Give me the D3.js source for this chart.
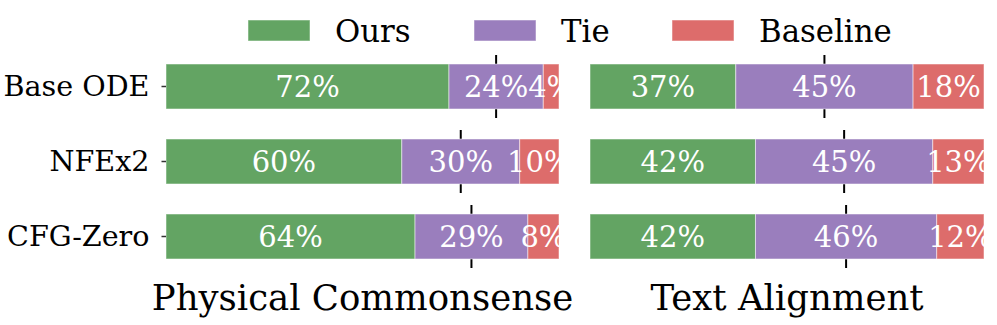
<!DOCTYPE html>
<html>
<head>
<meta charset="utf-8">
<script src="https://cdn.jsdelivr.net/npm/d3@7"></script>
<style>
  body { margin: 0; background: #fff; }
  svg text { font-family: "DejaVu Serif", serif; }
</style>
</head>
<body>
<div id="js-canvas"></div>
<script>
"use strict";

// Methods compared, top to bottom.
const methods = ["Base ODE", "NFEx2", "CFG-Zero"];

// Legend / stack order.
const series = ["Ours", "Tie", "Baseline"];
const colors = ["#63a463", "#9a7ebd", "#dd6c6b"];

// Percentages per method, in series order.
const physicalValues = [[72, 24, 4], [60, 30, 10], [64, 29, 8]];
const alignmentValues = [[37, 45, 18], [42, 45, 13], [42, 46, 12]];

const panelTitles = ["Physical Commonsense", "Text Alignment"];

const width = 997;
const height = 325;

function createCanvas(w, h) {
  return d3.select("#js-canvas")
    .append("svg")
      .attr("width", w)
      .attr("height", h);
}

const y = d3.scaleBand()
  .domain(methods)
  .range([49, 274])
  .paddingInner(0.4)
  .paddingOuter(0.2);

function stackRows(values) {
  return values.map(function (row, i) {
    const total = d3.sum(row);
    let acc = 0;
    return row.map(function (v, j) {
      const seg = { method: methods[i], series: j, value: v,
                    x0: acc / total, x1: (acc + v) / total };
      acc += v;
      return seg;
    });
  });
}

function drawPanel(svg, values, title, x0, x1, showAxis) {
  const x = d3.scaleLinear().domain([0, 1]).range([x0, x1]);
  const rows = stackRows(values);
  const g = svg.append("g");

  // black marks through the middle of the tie segment
  g.append("g")
    .selectAll("line")
    .data(rows.map(function (r) { return r[1]; }))
    .enter()
    .append("line")
      .attr("x1", function (d) { return x((d.x0 + d.x1) / 2); })
      .attr("x2", function (d) { return x((d.x0 + d.x1) / 2); })
      .attr("y1", function (d) { return y(d.method) - 9; })
      .attr("y2", function (d) { return y(d.method) + y.bandwidth() + 9; })
      .attr("stroke", "#000")
      .attr("stroke-width", 2);

  const segs = rows.flat();
  g.append("g")
    .selectAll("rect")
    .data(segs)
    .enter()
    .append("rect")
      .attr("x", function (d) { return x(d.x0); })
      .attr("y", function (d) { return y(d.method); })
      .attr("width", function (d) { return x(d.x1) - x(d.x0); })
      .attr("height", y.bandwidth())
      .attr("fill", function (d) { return colors[d.series]; })
      .attr("stroke", "rgba(255,255,255,0.5)")
      .attr("stroke-width", 1);

  g.append("g")
    .selectAll("text")
    .data(segs)
    .enter()
    .append("text")
      .attr("x", function (d) { return x((d.x0 + d.x1) / 2); })
      .attr("y", function (d) { return y(d.method) + y.bandwidth() / 2; })
      .attr("dy", "0.36em")
      .attr("text-anchor", "middle")
      .attr("fill", "#fff")
      .style("font-size", "29px")
      .text(function (d) { return d.value + "%"; });

  if (showAxis) {
    const axis = g.append("g")
      .attr("transform", "translate(" + x0 + ",0)")
      .call(d3.axisLeft(y).tickSize(4.5).tickPadding(12));
    axis.select(".domain").remove();
    axis.selectAll(".tick line").attr("stroke", "#333").attr("stroke-width", 1.5);
    axis.selectAll(".tick text")
      .attr("fill", "#000")
      .style("font-family", "DejaVu Serif")
      .style("font-size", "28.6px");
  }

  g.append("text")
    .attr("x", (x0 + x1) / 2)
    .attr("y", 310)
    .attr("text-anchor", "middle")
    .attr("fill", "#000")
    .style("font-size", "35.5px")
    .text(title);
}

function drawLegend(svg) {
  const legendX = [248, 474, 672];
  const items = svg.append("g")
    .selectAll("g")
    .data(series)
    .enter()
    .append("g")
      .attr("transform", function (d, i) { return "translate(" + legendX[i] + ",20)"; });
  items.append("rect")
    .attr("width", 62)
    .attr("height", 21)
    .attr("fill", function (d, i) { return colors[i]; })
    .attr("stroke", "rgba(255,255,255,0.5)")
    .attr("stroke-width", 1);
  items.append("text")
    .attr("x", 87)
    .attr("y", 10.5)
    .attr("dy", "0.36em")
    .attr("fill", "#000")
    .style("font-size", "30.8px")
    .text(function (d) { return d; });
}

const svg = createCanvas(width, height);
drawPanel(svg, physicalValues, panelTitles[0], 166, 559, true);
drawPanel(svg, alignmentValues, panelTitles[1], 590, 984, false);
drawLegend(svg);
</script>
</body>
</html>
